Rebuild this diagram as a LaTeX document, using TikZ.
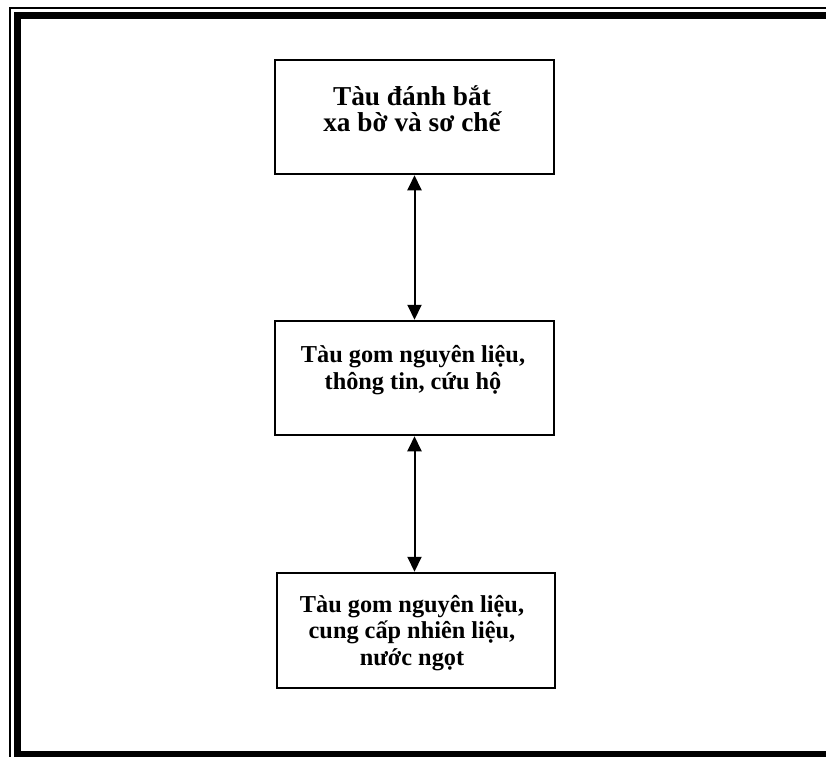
\documentclass[tikz,border=0pt]{standalone}
\usepackage{fontspec}
\setmainfont{Liberation Serif}
\usetikzlibrary{arrows.meta}
\begin{document}
\begin{tikzpicture}[x=1pt,y=-1pt,
  box/.style={draw,line width=1.5pt,minimum width=279pt,inner sep=0pt},
  boxtext/.style={align=center,font=\bfseries\fontsize{24.3}{26.5}\selectfont,inner sep=0pt},
  link/.style={line width=2pt,{Triangle[width=14pt,length=15pt]}-{Triangle[width=14pt,length=15pt]},shorten <=0.5pt,shorten >=0.5pt}]
\useasboundingbox (0,0) rectangle (826,756);
\clip (0,0) rectangle (826,756);
% page frame: thin outer rule and heavy inner rule
\draw[line width=1.5pt] (10,8) rectangle (837,763);
\draw[line width=7pt] (17.5,15.5) rectangle (829.5,754.5);
% boxes
\node[box,minimum height=114pt] (b1) at (414.5,117) {};
\node[box,minimum height=114pt] (b2) at (414.5,378) {};
\node[box,minimum width=278pt,minimum height=115pt] (b3) at (416,630.5) {};
% texts
\node[boxtext,font=\bfseries\fontsize{27.3}{26.5}\selectfont] (t1) at (412,108.5) {Tàu đánh bắt\\xa bờ và sơ chế};
\node[boxtext] (t2) at (413,370) {Tàu gom nguyên liệu,\\thông tin, cứu hộ};
\node[boxtext] (t3) at (412,633) {Tàu gom nguyên liệu,\\cung cấp nhiên liệu,\\nước ngọt};
% connectors
\draw[link] (b1.south) -- (b2.north);
\draw[link] (b2.south) -- (b2.south |- b3.north);
\end{tikzpicture}
\end{document}
